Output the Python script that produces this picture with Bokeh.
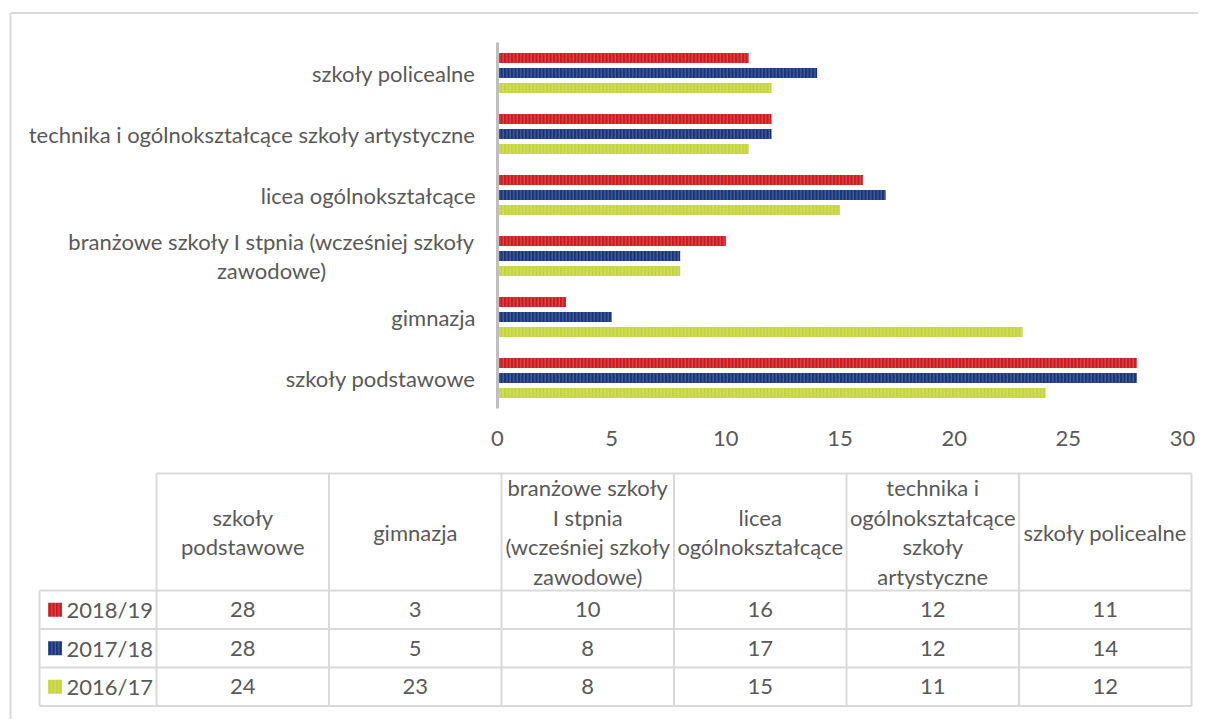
from bokeh.plotting import figure
from bokeh.models import Range1d, ColumnDataSource, FixedTicker, LinearAxis
from bokeh.core.properties import value
from bokeh.embed import file_html
from bokeh.resources import INLINE

# ---------------- data ----------------
categories = [
    "szkoły podstawowe",
    "gimnazja",
    "branżowe szkoły I stpnia (wcześniej szkoły zawodowe)",
    "licea ogólnokształcące",
    "technika i ogólnokształcące szkoły artystyczne",
    "szkoły policealne",
]
axis_labels = [
    "szkoły podstawowe",
    "gimnazja",
    "branżowe szkoły I stpnia (wcześniej szkoły\nzawodowe)",
    "licea ogólnokształcące",
    "technika i ogólnokształcące szkoły artystyczne",
    "szkoły policealne",
]
header_labels = [
    "szkoły\npodstawowe",
    "gimnazja",
    "branżowe szkoły\nI stpnia\n(wcześniej szkoły\nzawodowe)",
    "licea\nogólnokształcące",
    "technika i\nogólnokształcące\nszkoły\nartystyczne",
    "szkoły policealne",
]
series = ["2018/19", "2017/18", "2016/17"]
v_2018_19 = [28, 3, 10, 16, 12, 11]
v_2017_18 = [28, 5, 8, 17, 12, 14]
v_2016_17 = [24, 23, 8, 15, 11, 12]
x_ticks = [0, 5, 10, 15, 20, 25, 30]

values = [v_2018_19, v_2017_18, v_2016_17]
colors = ["#CC1A1F", "#17357A", "#C4D53C"]

FONT = value("Lato")
FS = "22px"
TXT = "#595959"
GRID = "#d9d9d9"

# ---------------- layout (page pixel coordinates) ----------------
PX0, PY0 = 0, 0
W, H = 1198, 719
PX1, PY1 = PX0 + W, PY0 + H
AX_L, AX_R = 497, 1182          # where the value axis starts / ends
CAT_TOP, CAT_BOT = 42, 408      # vertical extent of the bar area
n = len(categories)
pitch = (CAT_BOT - CAT_TOP) / n
xmin, xmax = x_ticks[0], x_ticks[-1]
k = (AX_R - AX_L) / (xmax - xmin)

p = figure(width=W, height=H, x_range=Range1d(PX0, PX1), y_range=Range1d(PY1, PY0),
           output_backend="svg", toolbar_location=None,
           x_axis_location=None, y_axis_location=None,
           min_border=0, min_border_left=0, min_border_right=0,
           min_border_top=0, min_border_bottom=0)
p.outline_line_color = None
p.xgrid.grid_line_color = None
p.ygrid.grid_line_color = None
p.extra_x_ranges = {"val": Range1d(xmin - (AX_L - PX0) / k, xmax + (PX1 - AX_R) / k)}
p.extra_y_ranges = {"cat": Range1d((CAT_BOT - PY1) / pitch - 0.5, (CAT_BOT - PY0) / pitch - 0.5)}

# outer chart border (top and left visible)
p.segment(x0=[10, 10], y0=[12.5, 12.5], x1=[10, PX1], y1=[PY1, 12.5],
          line_color="#d9d9d9", line_width=2)

# ---------------- bars ----------------
idx = list(range(n))
bar_h = 10 / pitch
step = 15 / pitch
for j, (name, vals, col) in enumerate(zip(series, values, colors)):
    off = step * (1 - j)
    src = ColumnDataSource(dict(y=[i + off for i in idx], val=vals))
    p.hbar(y="y", right="val", left=0, height=bar_h, source=src,
           x_range_name="val", y_range_name="cat",
           fill_color=col, line_color=None,
           hatch_pattern="vertical_line", hatch_color="white",
           hatch_alpha=0.28, hatch_scale=3.5, hatch_weight=1)

# value axis
xa = LinearAxis(x_range_name="val", fixed_location=CAT_BOT,
                ticker=FixedTicker(ticks=x_ticks), bounds=(xmin, xmax))
xa.axis_line_color = None
xa.major_tick_line_color = None
xa.minor_tick_line_color = None
xa.major_tick_out = 0
xa.minor_tick_out = 0
xa.major_label_standoff = 22
xa.major_label_text_font = "Lato"
xa.major_label_text_font_size = FS
xa.major_label_text_color = TXT
p.add_layout(xa, "below")

# category axis line
ya = LinearAxis(y_range_name="cat", fixed_location=AX_L,
                ticker=FixedTicker(ticks=[]), bounds=(-0.5, n - 0.5))
ya.axis_line_color = "#bfbfbf"
ya.axis_line_width = 3
ya.major_tick_line_color = None
ya.minor_tick_line_color = None
ya.major_tick_out = 0
ya.minor_tick_out = 0
p.add_layout(ya, "left")

# category labels
single = [i for i in idx if "\n" not in axis_labels[i]]
multi = [i for i in idx if "\n" in axis_labels[i]]
p.text(x=[AX_L - 22] * len(single), y=single, text=[axis_labels[i] for i in single],
       y_range_name="cat", text_font=FONT, text_font_size=FS, text_color=TXT,
       text_align="right", text_baseline="middle")
p.text(x=[271] * len(multi), y=multi, text=[axis_labels[i] for i in multi],
       y_range_name="cat", text_font=FONT, text_font_size=FS, text_color=TXT,
       text_align="center", text_baseline="middle", text_line_height=1.06)

# ---------------- data table ----------------
col_left, col_w = 156, 172.5
leg_left = 39
head_top, head_bot, row_h = 473, 590, 38.5
ncol = len(categories)
nrow = len(series)
edges = [col_left + i * col_w for i in range(ncol + 1)]
row_edges = [head_bot + r * row_h for r in range(nrow + 1)]
table_bot = row_edges[-1]

sx0, sy0, sx1, sy1 = [], [], [], []
for e in edges:
    sx0.append(e); sy0.append(head_top); sx1.append(e); sy1.append(table_bot)
sx0.append(leg_left); sy0.append(head_bot); sx1.append(leg_left); sy1.append(table_bot)
sx0.append(edges[0]); sy0.append(head_top); sx1.append(edges[-1]); sy1.append(head_top)
for r in row_edges:
    sx0.append(leg_left); sy0.append(r); sx1.append(edges[-1]); sy1.append(r)
p.segment(x0=sx0, y0=sy0, x1=sx1, y1=sy1, line_color=GRID, line_width=2)

hx = [col_left + (i + 0.5) * col_w for i in range(ncol)]
p.text(x=hx, y=[(head_top + head_bot) / 2] * ncol, text=header_labels,
       text_font=FONT, text_font_size=FS, text_color=TXT, text_align="center",
       text_baseline="middle", text_line_height=1.1)

for r, (name, vals, col) in enumerate(zip(series, values, colors)):
    yc = head_bot + (r + 0.5) * row_h
    p.text(x=hx, y=[yc] * ncol, text=[str(v) for v in vals], text_font=FONT,
           text_font_size=FS, text_color=TXT, text_align="center",
           text_baseline="middle")
    p.rect(x=[leg_left + 15.5], y=[yc], width=14, height=14, width_units="screen",
           height_units="screen", fill_color=col, line_color=None,
           hatch_pattern="vertical_line", hatch_color="white",
           hatch_alpha=0.28, hatch_scale=3.5, hatch_weight=1)
    p.text(x=[leg_left + 27], y=[yc], text=[name], text_font=FONT,
           text_font_size=FS, text_color=TXT, text_align="left",
           text_baseline="middle")

open("out.html", "w").write(file_html(p, INLINE))
